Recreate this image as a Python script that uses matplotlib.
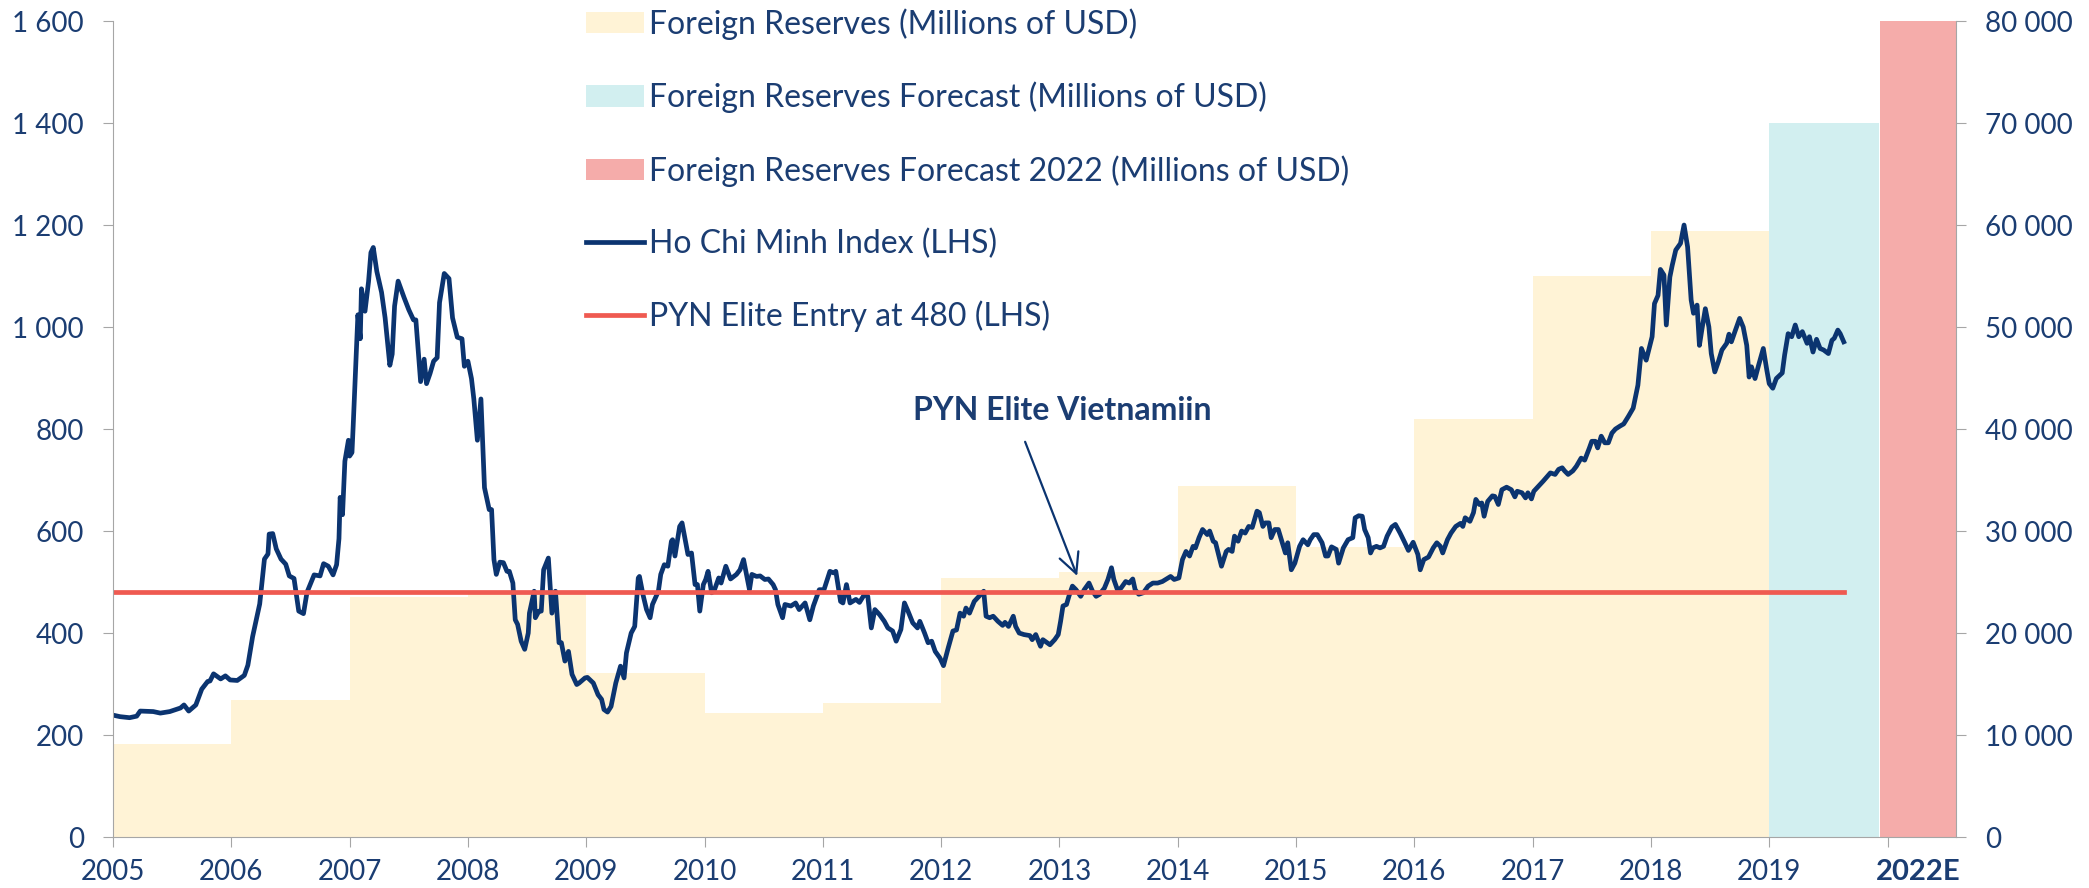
import matplotlib
matplotlib.use("Agg")
import matplotlib.pyplot as plt
from matplotlib.ticker import FuncFormatter

# foreign reserves, millions of USD, one value per calendar year
res_years = [2005, 2006, 2007, 2008, 2009, 2010, 2011, 2012, 2013, 2014, 2015, 2016, 2017, 2018]
res_vals = [9100, 13450, 23500, 23800, 16100, 12200, 13150, 25400, 26000, 34400, 28400, 41000, 55000, 59400]
fc_2019 = 70000
fc_2022 = 80000

# Ho Chi Minh index, decimal year / index level
hcm_t = [2005.00, 2005.06, 2005.14, 2005.20, 2005.23, 2005.34, 2005.40, 2005.48, 2005.57, 2005.60,
         2005.64, 2005.70, 2005.75, 2005.80, 2005.82, 2005.85, 2005.91, 2005.95, 2005.99, 2006.05,
         2006.11, 2006.14, 2006.18, 2006.24, 2006.28, 2006.31, 2006.32, 2006.35, 2006.38, 2006.42,
         2006.46, 2006.49, 2006.53, 2006.57, 2006.61, 2006.64, 2006.70, 2006.75, 2006.78, 2006.82,
         2006.86, 2006.89, 2006.91, 2006.92, 2006.94, 2006.96, 2006.99, 2007.00, 2007.02, 2007.03,
         2007.06, 2007.07, 2007.09, 2007.10, 2007.13, 2007.16, 2007.18, 2007.20, 2007.23, 2007.27,
         2007.30, 2007.34, 2007.36, 2007.38, 2007.41, 2007.46, 2007.50, 2007.54, 2007.56, 2007.60,
         2007.63, 2007.65, 2007.68, 2007.71, 2007.74, 2007.76, 2007.80, 2007.84, 2007.87, 2007.91,
         2007.95, 2007.97, 2008.00, 2008.03, 2008.05, 2008.08, 2008.11,
         2008.14, 2008.18, 2008.20, 2008.22, 2008.24, 2008.27, 2008.30, 2008.33, 2008.35, 2008.38,
         2008.40, 2008.42, 2008.45, 2008.48, 2008.51, 2008.52, 2008.56, 2008.57, 2008.60, 2008.62,
         2008.64, 2008.68, 2008.71, 2008.74, 2008.77, 2008.79, 2008.82, 2008.85, 2008.88, 2008.92,
         2008.94, 2008.99, 2009.01, 2009.06, 2009.10, 2009.13, 2009.15, 2009.18, 2009.21, 2009.25,
         2009.29, 2009.32, 2009.34, 2009.38, 2009.41, 2009.44, 2009.45, 2009.48, 2009.51, 2009.54,
         2009.56, 2009.61, 2009.63, 2009.66, 2009.69, 2009.72, 2009.73, 2009.75, 2009.79, 2009.81,
         2009.86, 2009.89, 2009.92, 2009.94, 2009.96, 2009.99, 2010.01, 2010.03, 2010.06, 2010.08,
         2010.12, 2010.14, 2010.18, 2010.22, 2010.27, 2010.30, 2010.33, 2010.38, 2010.40, 2010.44,
         2010.47, 2010.51, 2010.54, 2010.58, 2010.60, 2010.62, 2010.66, 2010.68, 2010.73, 2010.77,
         2010.80, 2010.85, 2010.89, 2010.92, 2010.97, 2011.01, 2011.06, 2011.09, 2011.11, 2011.15,
         2011.17, 2011.20, 2011.23, 2011.28, 2011.31, 2011.35, 2011.38, 2011.41, 2011.44, 2011.48,
         2011.52, 2011.55, 2011.59, 2011.62, 2011.66, 2011.69, 2011.72, 2011.76, 2011.80, 2011.82,
         2011.86, 2011.89, 2011.92, 2011.95, 2011.99, 2012.02, 2012.06, 2012.10, 2012.13, 2012.16,
         2012.19, 2012.21, 2012.24, 2012.28, 2012.32, 2012.36, 2012.38, 2012.41, 2012.44, 2012.48,
         2012.52, 2012.54, 2012.57, 2012.61, 2012.63, 2012.66, 2012.70, 2012.75, 2012.77, 2012.80,
         2012.84, 2012.86, 2012.89, 2012.92, 2012.96, 2012.99, 2013.01, 2013.03, 2013.06, 2013.08,
         2013.11, 2013.14, 2013.18, 2013.21, 2013.25, 2013.28, 2013.31, 2013.34, 2013.38, 2013.41,
         2013.44, 2013.46, 2013.49, 2013.52, 2013.56, 2013.59, 2013.62, 2013.64, 2013.67, 2013.71,
         2013.75, 2013.79, 2013.83, 2013.87, 2013.92, 2013.94, 2013.97, 2014.01, 2014.04, 2014.07,
         2014.10, 2014.13, 2014.15, 2014.18, 2014.21, 2014.25, 2014.27, 2014.30, 2014.32, 2014.37,
         2014.41, 2014.43, 2014.46, 2014.48, 2014.51, 2014.54, 2014.57, 2014.60, 2014.63, 2014.67,
         2014.69, 2014.72, 2014.74, 2014.77, 2014.79, 2014.82, 2014.85, 2014.88, 2014.91, 2014.93,
         2014.96, 2014.99, 2015.03, 2015.06, 2015.10, 2015.12, 2015.15, 2015.18, 2015.22, 2015.25,
         2015.27, 2015.30, 2015.34, 2015.36, 2015.40, 2015.44, 2015.48, 2015.50, 2015.53, 2015.56,
         2015.58, 2015.61, 2015.63, 2015.65, 2015.68, 2015.71, 2015.74, 2015.77, 2015.81, 2015.84,
         2015.88, 2015.92, 2015.95, 2015.99, 2016.03, 2016.05, 2016.08, 2016.12, 2016.16, 2016.19,
         2016.22, 2016.24, 2016.28, 2016.31, 2016.35, 2016.39, 2016.41, 2016.43, 2016.47, 2016.50,
         2016.52, 2016.55, 2016.57, 2016.59, 2016.62, 2016.66, 2016.68, 2016.71, 2016.74, 2016.78,
         2016.82, 2016.85, 2016.87, 2016.91, 2016.94, 2016.96, 2016.99, 2017.01, 2017.05, 2017.09,
         2017.15, 2017.19, 2017.22, 2017.25, 2017.27, 2017.30, 2017.34, 2017.37, 2017.41, 2017.44,
         2017.48, 2017.50, 2017.53, 2017.55, 2017.58, 2017.61, 2017.64, 2017.67, 2017.70, 2017.74,
         2017.77, 2017.81, 2017.85, 2017.89, 2017.92, 2017.96, 2018.01, 2018.03, 2018.06, 2018.08,
         2018.11, 2018.13, 2018.16, 2018.18, 2018.21, 2018.25, 2018.28, 2018.31, 2018.34, 2018.36,
         2018.39, 2018.41, 2018.43, 2018.46, 2018.49, 2018.51, 2018.54, 2018.57, 2018.60, 2018.64,
         2018.66, 2018.68, 2018.71, 2018.75, 2018.78, 2018.81, 2018.83, 2018.85, 2018.88, 2018.91,
         2018.95, 2018.98, 2019.00, 2019.03, 2019.06, 2019.11, 2019.13, 2019.16, 2019.19, 2019.22,
         2019.25, 2019.28, 2019.32, 2019.34, 2019.37, 2019.40, 2019.43, 2019.46, 2019.50, 2019.53,
         2019.55, 2019.58, 2019.60, 2019.63]
hcm_v = [239, 236, 234, 237, 247, 246, 243, 246, 253, 259,
         247, 259, 290, 305, 306, 320, 310, 316, 308, 307,
         317, 337, 393, 457, 545, 555, 594, 595, 565, 545,
         535, 512, 507, 443, 438, 480, 514, 512, 536, 531,
         514, 534, 585, 666, 632, 737, 778, 747, 754, 805,
         967, 1024, 977, 1075, 1031, 1089, 1146, 1156, 1109, 1068,
         1018, 925, 947, 1041, 1090, 1058, 1034, 1014, 1014, 893,
         937, 889, 909, 933, 940, 1048, 1105, 1095, 1018, 980,
         977, 923, 933, 899, 859, 778, 859,
         685, 642, 642, 544, 515, 539, 538, 521, 521, 498,
         426, 417, 384, 368, 400, 439, 482, 430, 443, 443,
         524, 547, 439, 482, 381, 381, 345, 364, 319, 299,
         302, 312, 313, 302, 279, 270, 250, 245, 256, 302,
         335, 312, 361, 400, 413, 508, 511, 475, 446, 430,
         456, 482, 515, 534, 531, 580, 583, 551, 609, 616,
         554, 557, 495, 495, 443, 495, 505, 521, 479, 482,
         508, 498, 531, 506, 515, 524, 544, 485, 515, 511,
         512, 505, 506, 495, 485, 456, 430, 456, 453, 459,
         446, 459, 426, 453, 485, 485, 521, 518, 521, 462,
         459, 495, 459, 466, 460, 475, 472, 410, 446, 436,
         423, 410, 404, 384, 407, 459, 443, 420, 410, 423,
         400, 381, 384, 364, 351, 336, 371, 404, 406, 439,
         433, 449, 439, 462, 472, 482, 433, 430, 433, 423,
         415, 421, 413, 433, 413, 400, 397, 395, 387, 397,
         374, 387, 382, 377, 387, 397, 423, 453, 456, 472,
         492, 485, 472, 485, 498, 482, 472, 476, 488, 505,
         528, 505, 485, 488, 501, 498, 506, 485, 476, 479,
         492, 498, 498, 501, 508, 511, 505, 508, 544, 560,
         551, 570, 567, 587, 603, 593, 600, 580, 577, 531,
         560, 564, 560, 590, 580, 600, 596, 609, 607, 639,
         636, 609, 616, 616, 587, 603, 603, 580, 557, 577,
         524, 537, 570, 583, 573, 583, 593, 593, 577, 551,
         551, 569, 564, 537, 567, 583, 587, 626, 630, 629,
         603, 587, 557, 567, 570, 567, 570, 590, 608, 613,
         596, 577, 562, 578, 554, 524, 544, 549, 567, 577,
         570, 557, 583, 596, 609, 615, 609, 626, 619, 636,
         662, 652, 655, 629, 658, 669, 668, 652, 681, 686,
         681, 667, 678, 675, 665, 675, 663, 678, 688, 698,
         714, 711, 721, 724, 718, 711, 718, 727, 743, 739,
         763, 776, 776, 763, 786, 773, 773, 792, 800, 806,
         810, 825, 841, 886, 958, 935, 981, 1046, 1062, 1113,
         1102, 1004, 1098, 1121, 1151, 1164, 1200, 1157, 1053, 1027,
         1043, 964, 994, 1036, 1000, 948, 912, 932, 955, 968,
         986, 971, 991, 1017, 1000, 964, 902, 922, 899, 925,
         958, 915, 889, 880, 899, 910, 945, 987, 981, 1004,
         981, 991, 968, 981, 951, 976, 958, 955, 948, 974,
         978, 994, 987, 971]

pyn_entry = 480

x_ticks = list(range(2005, 2021))
x_labels = [str(y) for y in range(2005, 2020)] + [""]

navy = "#0b3470"
text_c = "#1b3d72"
grey = "#a6a6a6"

plt.rcParams["font.family"] = ["Lato", "DejaVu Sans"]
plt.rcParams["font.size"] = 20

fig = plt.figure(figsize=(20.89, 8.88), dpi=100)
ax = fig.add_axes([0.0541, 0.0574, 0.8823, 0.9189])
ax2 = ax.twinx()

# reserves on the right axis
b1 = ax2.bar(res_years, res_vals, width=1.0, align="edge", color="#fff3d6", linewidth=0,
             label="Foreign Reserves (Millions of USD)")
b2 = ax2.bar([2019], [fc_2019], width=0.93, align="edge", color="#d2eff0", linewidth=0,
             label="Foreign Reserves Forecast (Millions of USD)")
b3 = ax2.bar([2019.94], [fc_2022], width=0.64, align="edge", color="#f5acaa", linewidth=0,
             label="Foreign Reserves Forecast 2022 (Millions of USD)")

# index and entry level on the left axis
l1, = ax.plot(hcm_t, hcm_v, color=navy, lw=3.4, label="Ho Chi Minh Index (LHS)")
l2, = ax.plot([2005, hcm_t[-1]], [pyn_entry, pyn_entry], color="#ef5a51", lw=3.4,
              label="PYN Elite Entry at 480 (LHS)")

ax.set_zorder(ax2.get_zorder() + 1)
ax.patch.set_visible(False)

ax.set_xlim(2005, 2020.58)
ax.set_ylim(0, 1600)
ax2.set_ylim(0, 80000)
ax.set_yticks(range(0, 1601, 200))
ax2.set_yticks(range(0, 80001, 10000))
fmt = FuncFormatter(lambda v, p: f"{int(v):,}".replace(",", " "))
ax.yaxis.set_major_formatter(fmt)
ax2.yaxis.set_major_formatter(fmt)

ax.set_xticks(x_ticks)
ax.set_xticklabels(x_labels)
ax.set_xticks([2020.26], minor=True)
ax.set_xticklabels(["2022E"], minor=True, fontweight="bold", fontsize=21)

for a in (ax, ax2):
    for s in a.spines.values():
        s.set_color(grey)
    a.spines["top"].set_visible(False)
ax.spines["right"].set_visible(False)
ax2.spines["left"].set_visible(False)
ax2.spines["bottom"].set_visible(False)

ax.tick_params(axis="x", which="major", length=7, color=grey, colors=text_c, pad=9)
ax.tick_params(axis="x", which="minor", length=0, colors=text_c, pad=16)
ax.tick_params(axis="y", length=7, color=grey, colors=text_c, pad=14)
ax2.tick_params(axis="y", length=7, color=grey, colors=text_c, pad=14)

ax.text(2013.02, 837, "PYN Elite Vietnamiin", ha="center", va="center",
        fontweight="bold", color=text_c, fontsize=23)
ax.annotate("", xy=(2013.15, 512), xytext=(2012.71, 775),
            arrowprops=dict(arrowstyle="->", color=navy, lw=1.6, mutation_scale=36,
                            shrinkA=0, shrinkB=0))

fig.legend(handles=[b1, b2, b3, l1, l2], loc="upper left",
           bbox_to_anchor=(586 / 2089, 1 - 8 / 888), frameon=False,
           labelcolor=text_c, fontsize=23, handlelength=1.8, handleheight=0.65,
           handletextpad=0.17, labelspacing=1.31, borderpad=0, borderaxespad=0)

fig.savefig("out.png", dpi=100)
